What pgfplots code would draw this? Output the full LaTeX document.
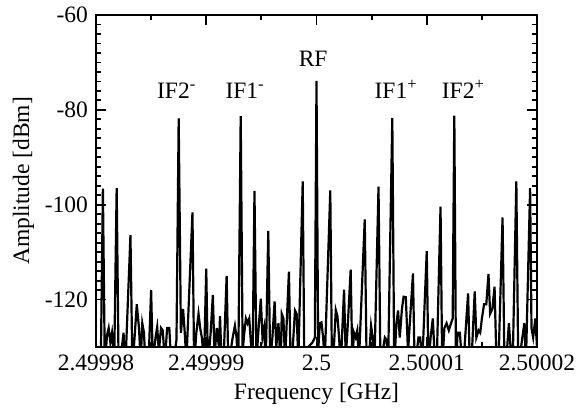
\documentclass[border=0pt]{standalone}
\usepackage{pgfplots}
\pgfplotsset{compat=1.18}
\usepackage{fontspec}
\setmainfont{Liberation Serif}

% offset from 2.5 GHz in kHz, amplitude in dBm
\pgfplotstableread{
x y
-20.0 -135
-19.55 -131
-19.375 -96.6
-19.2 -134
-19.0 -127.5
-18.85 -126
-18.7 -129
-18.55 -127
-18.35 -133
-18.125 -96.5
-17.95 -134
-17.7 -131
-17.5 -127
-17.35 -135
-16.875 -106.4
-16.7 -134
-16.5 -128
-16.3 -121
-16.1 -126
-15.95 -133
-15.8 -125
-15.65 -127
-15.5 -134
-15.2 -131
-15.0 -118
-14.85 -133
-14.6 -128
-14.45 -125.8
-14.3 -131
-14.1 -126
-13.95 -126.5
-13.75 -133
-13.55 -126
-13.35 -126
-13.15 -135
-12.85 -131
-12.7 -128.5
-12.5 -81.8
-12.3 -127
-12.1 -122
-11.95 -127
-11.8 -133
-11.25 -101.6
-11.1 -134
-10.9 -127
-10.7 -123
-10.55 -126
-10.4 -128
-10.2 -133
-10.0 -113.5
-9.85 -134
-9.6 -127
-9.4 -119
-9.25 -132
-9.05 -126
-8.85 -130
-8.75 -123.5
-8.6 -134
-8.4 -131
-8.15 -115
-8.0 -134
-7.8 -131
-7.6 -128
-7.4 -125.5
-7.25 -128
-7.1 -135
-6.875 -81.3
-6.7 -131
-6.55 -127
-6.4 -124
-6.25 -125
-6.1 -124
-5.95 -129
-5.8 -133
-5.625 -97.1
-5.45 -133
-5.25 -126
-5.05 -119.8
-4.9 -128
-4.75 -126
-4.6 -133
-4.375 -105.5
-4.2 -133
-4.0 -128
-3.8 -120.4
-3.65 -130
-3.45 -125
-3.25 -134
-3.15 -123
-3.0 -124
-2.85 -133
-2.5 -114.1
-2.35 -133
-2.15 -130
-1.95 -122.3
-1.8 -123
-1.65 -133
-1.25 -95.1
-1.1 -135
-0.75 -130
-0.35 -129
-0.15 -128
0 -73.9
0.15 -131
0.3 -125
0.45 -124.8
0.6 -128
0.75 -133
1.25 -97
1.4 -134
1.6 -129
1.75 -122.2
1.9 -123.5
2.05 -128
2.2 -134
2.5 -117.9
2.65 -132
2.8 -127
3.1 -113.7
3.25 -133
3.4 -127
3.55 -128
3.7 -126.5
3.85 -133
4.375 -103.1
4.55 -134
4.8 -131
4.95 -125.5
5.1 -128
5.25 -134
5.625 -96.2
5.8 -134
6.0 -131
6.2 -128
6.35 -128.5
6.5 -133
6.875 -81.7
7.05 -134
7.25 -125
7.4 -122.3
7.55 -128
7.75 -122
7.9 -119.4
8.1 -119.5
8.3 -131
8.75 -114.5
8.9 -134
9.1 -131
9.25 -128
9.4 -128
9.6 -133
10.0 -109.8
10.15 -134
10.35 -128
10.55 -124
10.7 -131
10.9 -134
11.25 -100.4
11.4 -134
11.6 -126
11.8 -125
12.0 -126.5
12.2 -125
12.35 -124
12.5 -81.2
12.65 -134
12.8 -127
13.0 -127
13.2 -133
13.4 -131
13.75 -118.7
13.9 -133
14.1 -131
14.35 -118.3
14.5 -128
14.7 -126.5
14.85 -127
15.0 -124
15.2 -121
15.4 -121
15.6 -114.6
15.75 -123
15.95 -122
16.15 -117.3
16.3 -131
16.5 -134
16.875 -102.7
17.05 -134
17.3 -130
17.45 -125
17.6 -130
17.8 -133
18.125 -95.1
18.3 -134
18.5 -131
18.7 -127.5
18.85 -125
19.0 -133
19.375 -96.5
19.5 -126
19.65 -128
19.85 -124
20.0 -130
}\spectrum

\begin{document}
\fontsize{23.5bp}{28bp}\selectfont
\begin{tikzpicture}
\path[use as bounding box] (-96bp,-61bp) rectangle (480bp,347bp);
\begin{axis}[
    at={(0,0)}, anchor=south west,
    scale only axis,
    width=441bp, height=332bp,
    xmin=-20, xmax=20,
    ymin=-130, ymax=-60,
    xtick={-20,-10,0,10,20},
    xticklabels={2.49998,2.49999,2.5,2.50001,2.50002},
    ytick={-60,-80,-100,-120},
    yticklabels={-60,-80,-100,-120},
    minor x tick num=1,
    minor y tick num=9,
    tick align=inside,
    major tick length=10bp,
    minor tick length=5bp,
    every tick/.style={line width=1.8bp, black},
    axis line style={line width=2.2bp},
    ticklabel style={font=\fontsize{23.5bp}{28bp}\selectfont},
    label style={font=\fontsize{23.5bp}{28bp}\selectfont},
    xlabel={Frequency [GHz]},
    ylabel={Amplitude [dBm]},
    xlabel style={yshift=4bp},
    ylabel style={yshift=-5bp},
]
\addplot[black, line width=2.2bp, line join=miter] table[x=x, y=y] {\spectrum};
\node[anchor=base] at (axis cs:-12.7,-77.5) {IF2\textsuperscript{-}};
\node[anchor=base] at (axis cs:-6.5,-77.5) {IF1\textsuperscript{-}};
\node[anchor=base] at (axis cs:-0.3,-70.8) {RF};
\node[anchor=base] at (axis cs:7.2,-77.5) {IF1\textsuperscript{+}};
\node[anchor=base] at (axis cs:13.3,-77.5) {IF2\textsuperscript{+}};
\end{axis}
\end{tikzpicture}
\end{document}
